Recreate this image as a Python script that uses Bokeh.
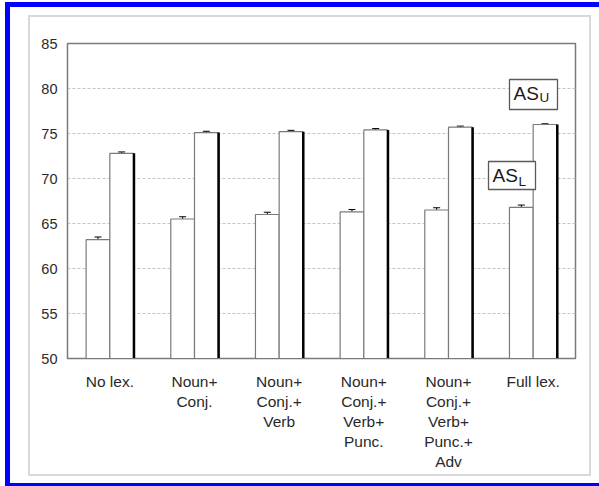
from bokeh.plotting import figure
from bokeh.models import (ColumnDataSource, FactorRange, Range1d, Whisker, TeeHead,
                          BoxAnnotation, Label, FixedTicker)
from bokeh.transform import dodge
from bokeh.embed import file_html
from bokeh.resources import INLINE

categories = ["No lex.", "Noun+\nConj.", "Noun+\nConj.+\nVerb",
              "Noun+\nConj.+\nVerb+\nPunc.", "Noun+\nConj.+\nVerb+\nPunc.+\nAdv",
              "Full lex."]
as_l = [63.2, 65.5, 66.0, 66.3, 66.5, 66.8]
as_u = [72.8, 75.1, 75.2, 75.4, 75.7, 76.0]
as_l_err = [0.3, 0.25, 0.25, 0.25, 0.25, 0.25]
as_u_err = [0.15, 0.15, 0.15, 0.15, 0.12, 0.08]
y_ticks = [50, 55, 60, 65, 70, 75, 80, 85]

src = ColumnDataSource(dict(
    cat=categories, as_l=as_l, as_u=as_u,
    l_lo=[v - e for v, e in zip(as_l, as_l_err)],
    l_hi=[v + e for v, e in zip(as_l, as_l_err)],
    u_lo=[v - e for v, e in zip(as_u, as_u_err)],
    u_hi=[v + e for v, e in zip(as_u, as_u_err)],
    base=[50] * len(categories),
))

FONT = "Liberation Sans"
W, H = 599, 486
FL, FT, FW, FH = 67, 43, 508, 315
p = figure(width=W, height=H, x_range=FactorRange(*categories, range_padding=0),
           y_range=Range1d(50, 85), output_backend="svg", toolbar_location=None,
           min_border_left=FL, min_border_right=W - FL - FW,
           min_border_top=FT, min_border_bottom=H - FT - FH)


def band(x, y, w, h, color):
    return (f"linear-gradient({color},{color})", f"{x}px {y}px", f"{w}px {h}px")


bands = [
    band(5, 2, 5, 484, "#0000ff"),      # blue frame, left
    band(5, 2, 594, 5, "#0000ff"),      # blue frame, top
    band(5, 483, 594, 3, "#0000ff"),    # blue frame, bottom
    band(28, 15, 2, 461, "#d9d9d9"),    # chart area border
    band(589, 15, 2, 461, "#d9d9d9"),
    band(28, 15, 563, 2, "#d9d9d9"),
    band(28, 474, 563, 2, "#d9d9d9"),
]
p.styles = {
    "background-color": "white",
    "background-image": ", ".join(b[0] for b in bands),
    "background-position": ", ".join(b[1] for b in bands),
    "background-size": ", ".join(b[2] for b in bands),
    "background-repeat": "no-repeat",
}
p.background_fill_color = "white"
p.border_fill_alpha = 0
p.outline_line_color = "#7a7a7a"
p.outline_line_width = 1.5

# grid
p.xgrid.grid_line_color = None
p.ygrid.grid_line_color = "#c4c4c4"
p.ygrid.grid_line_dash = "3 2"
p.ygrid.grid_line_width = 1

# axes
p.yaxis.ticker = FixedTicker(ticks=y_ticks)
for ax in (p.xaxis, p.yaxis):
    ax.axis_line_color = "#7a7a7a"
    ax.major_tick_line_color = None
    ax.major_tick_out = 0
    ax.major_tick_in = 0
    ax.minor_tick_line_color = None
    ax.major_label_text_font = FONT
    ax.major_label_text_color = "#2a2a2a"
p.yaxis.major_label_text_font_size = "14.5px"
p.yaxis.major_label_standoff = 10
p.xaxis.major_label_text_font_size = "15.5px"
p.xaxis.major_label_text_line_height = 1.19
p.xaxis.major_label_standoff = 14
p.xaxis.major_label_orientation = "horizontal"

# bars
p.vbar(x=dodge("cat", -0.14, range=p.x_range), top="as_l", bottom=50, width=0.28,
       source=src, fill_color="white", line_color="#7a7a7a", line_width=1.2)
p.vbar(x=dodge("cat", 0.14, range=p.x_range), top="as_u", bottom=50, width=0.28,
       source=src, fill_color="white", line_color="#7a7a7a", line_width=1.2)
p.segment(x0=dodge("cat", 0.285, range=p.x_range), y0="base",
          x1=dodge("cat", 0.285, range=p.x_range), y1="as_u",
          source=src, line_color="black", line_width=2.5)

# error bars
for off, lo, hi in ((-0.14, "l_lo", "l_hi"), (0.14, "u_lo", "u_hi")):
    w = Whisker(base=dodge("cat", off, range=p.x_range), lower=lo, upper=hi, source=src,
                line_color="black", line_width=1,
                upper_head=TeeHead(size=7, line_color="black", line_width=1),
                lower_head=TeeHead(size=7, line_color="black", line_width=1))
    p.add_layout(w)

# AS_U / AS_L boxes (frame-relative screen units, y up from frame bottom)
for (l, r, t, b) in ((442, 490, 279, 249), (421, 468, 197, 169)):
    p.add_layout(BoxAnnotation(left=l, right=r, top=t, bottom=b,
                               left_units="screen", right_units="screen",
                               top_units="screen", bottom_units="screen",
                               fill_color="white", fill_alpha=1,
                               line_color="#5a5a5a", line_alpha=1, line_width=1.3))
for txt, x, y, size in (("AS", 446, 265, "19px"), ("U", 472, 261, "13.5px"),
                        ("AS", 425, 183, "19px"), ("L", 451, 177, "13.5px")):
    p.add_layout(Label(x=x, y=y, x_units="screen", y_units="screen", text=txt,
                       text_font=FONT, text_font_size=size, text_color="#1a1a1a",
                       text_baseline="alphabetic", text_align="left"))

open("out.html", "w").write(file_html(p, INLINE))
